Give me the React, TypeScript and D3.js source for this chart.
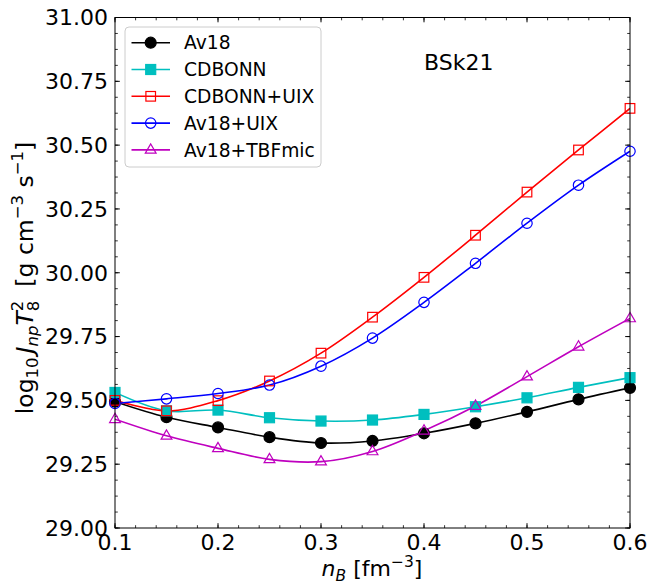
import React from "react";
import * as d3 from "d3";

const xValues = [0.1, 0.15, 0.2, 0.25, 0.3, 0.35, 0.4, 0.45, 0.5, 0.55, 0.6];
const av18 = [29.495, 29.434, 29.394, 29.356, 29.333, 29.341, 29.371, 29.41, 29.455, 29.504, 29.549];
const cdbonn = [29.531, 29.459, 29.462, 29.432, 29.419, 29.423, 29.445, 29.475, 29.51, 29.551, 29.589];
const cdbonnUix = [29.5, 29.459, 29.499, 29.576, 29.685, 29.826, 29.982, 30.147, 30.316, 30.481, 30.644];
const av18Uix = [29.488, 29.506, 29.527, 29.56, 29.634, 29.744, 29.884, 30.037, 30.194, 30.343, 30.476];
const av18Tbf = [29.426, 29.361, 29.312, 29.269, 29.26, 29.3, 29.381, 29.478, 29.593, 29.71, 29.821];

const xTicks = [0.1, 0.2, 0.3, 0.4, 0.5, 0.6];
const yTicks = [29.0, 29.25, 29.5, 29.75, 30.0, 30.25, 30.5, 30.75, 31.0];

type Series = { name: string; values: number[]; color: string; marker: string; filled: boolean };
const series: Series[] = [
  { name: "Av18", values: av18, color: "#000000", marker: "circle", filled: true },
  { name: "CDBONN", values: cdbonn, color: "#00bfbf", marker: "square", filled: true },
  { name: "CDBONN+UIX", values: cdbonnUix, color: "#ff0000", marker: "square", filled: false },
  { name: "Av18+UIX", values: av18Uix, color: "#0000ff", marker: "circle", filled: false },
  { name: "Av18+TBFmic", values: av18Tbf, color: "#bf00bf", marker: "triangle", filled: false },
];

const L = 115, R = 630, T = 17.5, B = 528;
const FONT = "DejaVu Sans, sans-serif";

function Marker({ s, cx, cy }: { s: Series; cx: number; cy: number }) {
  const fill = s.filled ? s.color : "none";
  const sw = 1.2;
  if (s.marker === "circle") {
    return <circle cx={cx} cy={cy} r={s.filled ? 5.5 : 5.2} fill={fill} stroke={s.color} strokeWidth={sw} />;
  }
  if (s.marker === "square") {
    const h = s.filled ? 5 : 4.8;
    return <rect x={cx - h} y={cy - h} width={2 * h} height={2 * h} fill={fill} stroke={s.color} strokeWidth={sw} />;
  }
  const r = 6;
  const pts = [
    [cx, cy - r],
    [cx - r * 0.9, cy + r * 0.55],
    [cx + r * 0.9, cy + r * 0.55],
  ];
  return <polygon points={pts.map((p) => p.join(",")).join(" ")} fill={fill} stroke={s.color} strokeWidth={sw} />;
}

export default function App() {
  const x = d3.scaleLinear().domain([0.1, 0.6]).range([L, R]);
  const y = d3.scaleLinear().domain([29, 31]).range([B, T]);
  const line = d3
    .line<number>()
    .x((_, i) => x(xValues[i]))
    .y((d) => y(d))
    .curve(d3.curveCatmullRom.alpha(0.5));

  const xMinor = d3.range(0.1, 0.6001, 0.02);
  const yMinor = d3.range(29, 31.0001, 0.0625);

  const legX = 125, legY = 27, legW = 196, legH = 140;
  const rowY = (i: number) => 42.7 + i * 26.8;

  return (
    <svg
      width={650}
      height={585}
      style={{ position: "absolute", left: 0, top: 0, background: "#fff" }}
      fontFamily={FONT}
    >
      <rect x={0} y={0} width={650} height={585} fill="#fff" />
      <defs>
        <clipPath id="plotclip">
          <rect x={L} y={T} width={R - L} height={B - T} />
        </clipPath>
      </defs>

      {/* ticks */}
      {xMinor.map((v, i) => (
        <g key={"xm" + i}>
          <line x1={x(v)} x2={x(v)} y1={B} y2={B - 2.8} stroke="#000" strokeWidth={0.8} />
          <line x1={x(v)} x2={x(v)} y1={T} y2={T + 2.8} stroke="#000" strokeWidth={0.8} />
        </g>
      ))}
      {yMinor.map((v, i) => (
        <g key={"ym" + i}>
          <line x1={L} x2={L + 2.8} y1={y(v)} y2={y(v)} stroke="#000" strokeWidth={0.8} />
          <line x1={R} x2={R - 2.8} y1={y(v)} y2={y(v)} stroke="#000" strokeWidth={0.8} />
        </g>
      ))}
      {xTicks.map((v, i) => (
        <g key={"xt" + i}>
          <line x1={x(v)} x2={x(v)} y1={B} y2={B - 4.8} stroke="#000" strokeWidth={1} />
          <line x1={x(v)} x2={x(v)} y1={T} y2={T + 4.8} stroke="#000" strokeWidth={1} />
          <text x={x(v)} y={550} fontSize={22} textAnchor="middle" fill="#000">
            {v.toFixed(1)}
          </text>
        </g>
      ))}
      {yTicks.map((v, i) => (
        <g key={"yt" + i}>
          <line x1={L} x2={L + 4.8} y1={y(v)} y2={y(v)} stroke="#000" strokeWidth={1} />
          <line x1={R} x2={R - 4.8} y1={y(v)} y2={y(v)} stroke="#000" strokeWidth={1} />
          <text x={108} y={y(v)} dy="0.36em" fontSize={22} textAnchor="end" fill="#000">
            {v.toFixed(2)}
          </text>
        </g>
      ))}

      {/* data */}
      <g clipPath="url(#plotclip)">
        {series.map((s) => (
          <path key={s.name} d={line(s.values) || ""} fill="none" stroke={s.color} strokeWidth={1.6} />
        ))}
      </g>
      {series.map((s) => (
        <g key={s.name + "m"}>
          {s.values.map((v, i) => (
            <Marker key={i} s={s} cx={x(xValues[i])} cy={y(v)} />
          ))}
        </g>
      ))}

      {/* frame */}
      <rect x={L} y={T} width={R - L} height={B - T} fill="none" stroke="#000" strokeWidth={1} />

      {/* legend */}
      <rect x={legX} y={legY} width={legW} height={legH} rx={4} fill="#fff" fillOpacity={0.8} stroke="#cccccc" strokeWidth={1} />
      {series.map((s, i) => (
        <g key={s.name + "leg"}>
          <line x1={131.5} x2={170} y1={rowY(i)} y2={rowY(i)} stroke={s.color} strokeWidth={1.6} />
          <Marker s={s} cx={150.7} cy={rowY(i)} />
          <text x={184} y={rowY(i)} dy="0.36em" fontSize={18.7} fill="#000">
            {s.name}
          </text>
        </g>
      ))}

      <text x={424} y={70} fontSize={22} fill="#000">
        BSk21
      </text>

      {/* x label */}
      <text x={372} y={576} fontSize={22} textAnchor="middle" fill="#000">
        <tspan fontStyle="italic">n</tspan>
        <tspan fontSize={15.5} fontStyle="italic" dy={5}>B</tspan>
        <tspan dy={-5}> [fm</tspan>
        <tspan fontSize={15.5} dy={-9}>−3</tspan>
        <tspan dy={9}>]</tspan>
      </text>

      {/* y label */}
      <text transform="translate(33,278) rotate(-90)" fontSize={23.5} textAnchor="middle" fill="#000">
        <tspan>log</tspan>
        <tspan fontSize={16.5} dy={5}>10</tspan>
        <tspan dy={-5} dx={4} fontStyle="italic">J</tspan>
        <tspan fontSize={16.5} dy={5} fontStyle="italic">np</tspan>
        <tspan dy={-5} fontStyle="italic">T</tspan>
        <tspan fontSize={16.5} dy={-10}>2</tspan>
        <tspan fontSize={16.5} dx={-10.5} dy={16}>8</tspan>
        <tspan dy={-6} dx={14}>[g cm</tspan>
        <tspan fontSize={16.5} dy={-10}>−3</tspan>
        <tspan dy={10}> s</tspan>
        <tspan fontSize={16.5} dy={-10}>−1</tspan>
        <tspan dy={10}>]</tspan>
      </text>
    </svg>
  );
}
